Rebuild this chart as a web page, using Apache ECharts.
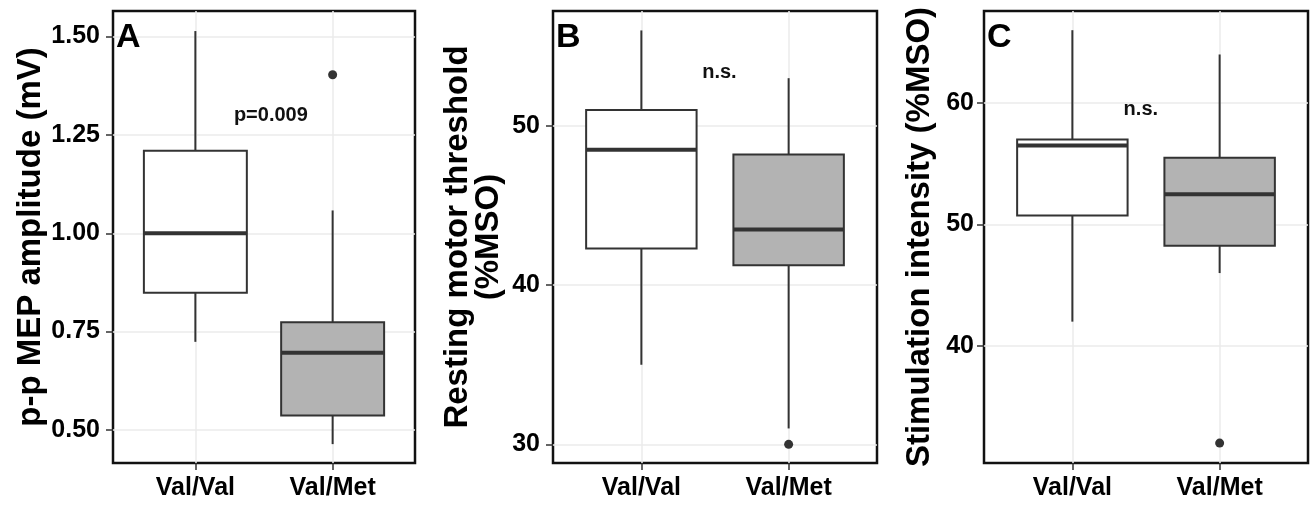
<!DOCTYPE html>
<html>
<head>
<meta charset="utf-8">
<script src="https://cdn.jsdelivr.net/npm/echarts@6/dist/echarts.min.js"></script>
<style>
  html, body { margin: 0; padding: 0; background: #fff; }
  #chart { width: 1316px; height: 506px; }
</style>
</head>
<body>
<div id="chart"></div>
<script>
const groups = ['Val/Val', 'Val/Met']
const boxFill = ['#ffffff', '#b3b3b3']

// [lower whisker, Q1, median, Q3, upper whisker]
const mepBox = [[0.724, 0.849, 1.00, 1.21, 1.514], [0.464, 0.537, 0.696, 0.774, 1.058]]
const mepOut = [[2, 1.403]]
const rmtBox = [[35, 42.3, 48.5, 51, 56], [31, 41.25, 43.5, 48.2, 53]]
const rmtOut = [[2, 30]]
const siBox = [[42, 50.75, 56.5, 57, 66], [46, 48.25, 52.5, 55.5, 64]]
const siOut = [[2, 32]]

const mepTicks = [0.5, 0.75, 1.0, 1.25, 1.5]
const rmtTicks = [30, 40, 50]
const siTicks = [40, 50, 60]

const notes = [
  { pos: [1.55, 1.30], text: 'p=0.009' },
  { pos: [1.53, 53.35], text: 'n.s.' },
  { pos: [1.465, 59.45], text: 'n.s.' }
]

const font = "'Liberation Sans', Arial, Helvetica, sans-serif"
const lineCol = '#333333'

const panels = [
  { box: mepBox, out: mepOut, ticks: mepTicks, min: 0.416, max: 1.565, dec: 2,
    name: 'p-p MEP amplitude (mV)', gap: 60, lblMargin: 13, left: 113, letter: 'A' },
  { box: rmtBox, out: rmtOut, ticks: rmtTicks, min: 28.83, max: 57.22, dec: 0,
    name: 'Resting motor threshold\n(%MSO)', gap: 49, lblMargin: 13, left: 553, letter: 'B' },
  { box: siBox, out: siOut, ticks: siTicks, min: 30.36, max: 67.58, dec: 0,
    name: 'Stimulation intensity (%MSO)', gap: 49, lblMargin: 10, left: 984, letter: 'C' }
]
const widths = [302, 324, 324]

const renderBox = (params, api) => {
  const x = api.value(0)
  const lo = api.coord([x, api.value(1)])
  const q1 = api.coord([x, api.value(2)])
  const md = api.coord([x, api.value(3)])
  const q3 = api.coord([x, api.value(4)])
  const hi = api.coord([x, api.value(5)])
  const hw = api.size([0.75, 0])[0] / 2
  const fill = boxFill[params.dataIndex]
  return {
    type: 'group',
    children: [
      { type: 'line', shape: { x1: lo[0], y1: lo[1], x2: q1[0], y2: q1[1] }, style: { stroke: lineCol, lineWidth: 2 } },
      { type: 'line', shape: { x1: q3[0], y1: q3[1], x2: hi[0], y2: hi[1] }, style: { stroke: lineCol, lineWidth: 2 } },
      { type: 'rect', shape: { x: q3[0] - hw, y: q3[1], width: hw * 2, height: q1[1] - q3[1] },
        style: { fill: fill, stroke: lineCol, lineWidth: 2 } },
      { type: 'line', shape: { x1: md[0] - hw, y1: md[1], x2: md[0] + hw, y2: md[1] }, style: { stroke: lineCol, lineWidth: 4 } }
    ]
  }
}

const grid = [], xAxis = [], yAxis = [], series = [], title = []

panels.forEach((p, i) => {
  grid.push({
    left: p.left, width: widths[i], top: 11, bottom: 43,
    show: true, borderColor: '#111', borderWidth: 2.5, backgroundColor: '#fff'
  })
  xAxis.push({
    type: 'value', gridIndex: i, min: 0.4, max: 2.6,
    axisLine: { show: false },
    axisTick: { show: true, length: 7, customValues: [1, 2], lineStyle: { color: lineCol, width: 1.5 } },
    axisLabel: {
      customValues: [1, 2], margin: 13,
      formatter: v => groups[Math.round(v) - 1] || '',
      fontFamily: font, fontWeight: 'bold', fontSize: 25, color: '#000'
    },
    splitLine: { show: true, lineStyle: { color: '#ebebeb', width: 1.5 } }
  })
  yAxis.push({
    type: 'value', gridIndex: i, min: p.min, max: p.max,
    name: p.name, nameLocation: 'middle', nameGap: p.gap,
    nameTextStyle: { fontFamily: font, fontWeight: 'bold', fontSize: 33, color: '#000', lineHeight: 31 },
    axisLine: { show: false },
    axisTick: { show: true, length: 7, customValues: p.ticks, lineStyle: { color: lineCol, width: 1.5 } },
    axisLabel: {
      customValues: p.ticks, margin: p.lblMargin,
      formatter: v => v.toFixed(p.dec),
      fontFamily: font, fontWeight: 'bold', fontSize: 25, color: '#000'
    },
    splitLine: { show: true, lineStyle: { color: '#ebebeb', width: 1.5 } }
  })
  series.push({
    type: 'custom', xAxisIndex: i, yAxisIndex: i, z: 3,
    renderItem: renderBox,
    encode: { x: 0, y: [1, 2, 3, 4, 5] },
    data: p.box.map((b, k) => [k + 1, ...b])
  })
  series.push({
    type: 'scatter', xAxisIndex: i, yAxisIndex: i, z: 4,
    symbolSize: 9, itemStyle: { color: lineCol, opacity: 1 },
    data: p.out
  })
  series.push({
    type: 'scatter', xAxisIndex: i, yAxisIndex: i, z: 4,
    symbolSize: 1, itemStyle: { color: 'rgba(0,0,0,0)', opacity: 1 },
    label: {
      show: true, position: 'inside', formatter: notes[i].text,
      fontFamily: font, fontWeight: 'bold', fontSize: 20, color: '#111',
      textBorderWidth: 0, textBorderColor: 'transparent'
    },
    data: [notes[i].pos]
  })
  title.push({
    text: p.letter, left: p.left + 3, top: 21, padding: 0,
    textStyle: { fontFamily: font, fontWeight: 'bold', fontSize: 34, color: '#000' }
  })
})

const chart = echarts.init(document.getElementById('chart'))
chart.setOption({
  animation: false,
  backgroundColor: '#fff',
  title, grid, xAxis, yAxis, series
})
window.addEventListener('resize', () => chart.resize())
</script>
</body>
</html>
